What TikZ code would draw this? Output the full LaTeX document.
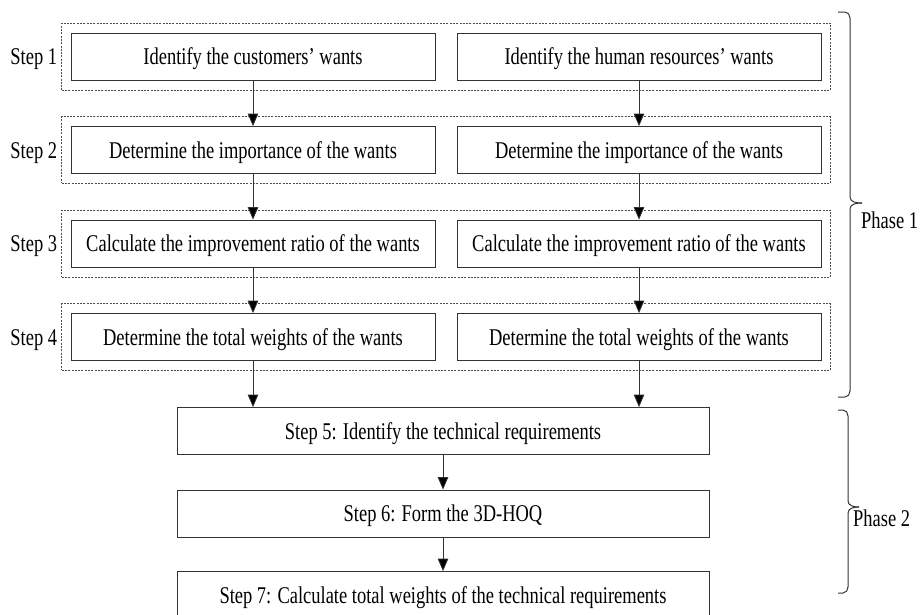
\documentclass[tikz,border=0pt]{standalone}
\usepackage{fontspec}
\setmainfont{Liberation Serif}[FakeStretch=0.77]
\usepackage{tikz}
\usetikzlibrary{arrows.meta,positioning,fit}

\begin{document}
\begin{tikzpicture}[
    x=1pt, y=1pt,
    node distance=93.5pt,
    >={Triangle[width=10.5pt,length=12.5pt,fill=black]},
    font=\fontsize{24}{28}\selectfont,
    want/.style={rectangle, draw=black!80, line width=0.8pt, minimum width=364pt, minimum height=47pt, inner sep=0pt, text height=16pt, text depth=0pt},
    stage/.style={rectangle, draw=black!80, line width=0.8pt, minimum width=532pt, minimum height=47pt, inner sep=0pt, text height=16pt, text depth=0pt},
    group/.style={rectangle, draw=black!70, line width=0.6pt, dash pattern=on 2pt off 1.3pt, inner xsep=9pt, inner ysep=9.5pt},
    steplabel/.style={inner sep=0pt, text height=16pt, text depth=0pt},
    phase/.style={anchor=west, inner sep=0pt, text height=16pt, text depth=0pt},
    link/.style={->, draw=black!80, line width=0.8pt},
    bracket/.style={draw=black!80, line width=1pt}
]
\useasboundingbox (0,0) rectangle (924,-614);

% Step 1
\node [want] (cus1) at (253,-56.5) {Identify the customers' wants};
\node [want, right of=cus1, xshift=292.5pt] (hr1) {Identify the human resources' wants};

% Step 2
\node [want, below of=cus1] (cus2) {Determine the importance of the wants};
\node [want, below of=hr1] (hr2) {Determine the importance of the wants};

% Step 3
\node [want, below of=cus2] (cus3) {Calculate the improvement ratio of the wants};
\node [want, below of=hr2] (hr3) {Calculate the improvement ratio of the wants};

% Step 4
\node [want, below of=cus3] (cus4) {Determine the total weights of the wants};
\node [want, below of=hr3] (hr4) {Determine the total weights of the wants};

% Dashed step groups
\node [group, fit=(cus1)(hr1)] (row1) {};
\node [group, fit=(cus2)(hr2)] (row2) {};
\node [group, fit=(cus3)(hr3)] (row3) {};
\node [group, fit=(cus4)(hr4)] (row4) {};

% Step labels
\node [steplabel, left=4pt of row1] (lab1) {Step 1};
\node [steplabel, left=4pt of row2] (lab2) {Step 2};
\node [steplabel, left=4pt of row3] (lab3) {Step 3};
\node [steplabel, left=4pt of row4] (lab4) {Step 4};

% Step 5 to 7
\node [stage, below of=cus4, xshift=190pt, yshift=-0.5pt] (tech) {Step 5: Identify the technical requirements};
\node [stage, below of=tech, yshift=11pt] (hoq) {Step 6: Form the 3D-HOQ};
\node [stage, below of=hoq, yshift=12pt] (total) {Step 7: Calculate total weights of the technical requirements};

% Phases
\node [phase] (ph1) at (861,-220) {Phase 1};
\node [phase] (ph2) at (853,-518) {Phase 2};

% Connections
\draw [link] (cus1) -- (cus2);
\draw [link] (cus2) -- (cus3);
\draw [link] (cus3) -- (cus4);
\draw [link] (hr1) -- (hr2);
\draw [link] (hr2) -- (hr3);
\draw [link] (hr3) -- (hr4);
\draw [link] (cus4) -- (cus4 |- tech.north);
\draw [link] (hr4) -- (hr4 |- tech.north);
\draw [link] (tech) -- (hoq);
\draw [link] (hoq) -- (total);

% Brackets
\draw [bracket] (838,-12) -- (845,-12) to[out=0,in=90] (850,-18) -- (850,-197) to[out=-90,in=180] (862,-203);
\draw [bracket] (862,-203) to[out=180,in=90] (850,-209) -- (850,-391) to[out=-90,in=0] (845,-397) -- (838,-397);
\draw [bracket] (838,-410) -- (843,-410) to[out=0,in=90] (848,-416) -- (848,-501) to[out=-90,in=180] (859,-507);
\draw [bracket] (859,-507) to[out=180,in=90] (848,-513) -- (848,-587) to[out=-90,in=0] (843,-593) -- (838,-593);

\end{tikzpicture}
\end{document}
